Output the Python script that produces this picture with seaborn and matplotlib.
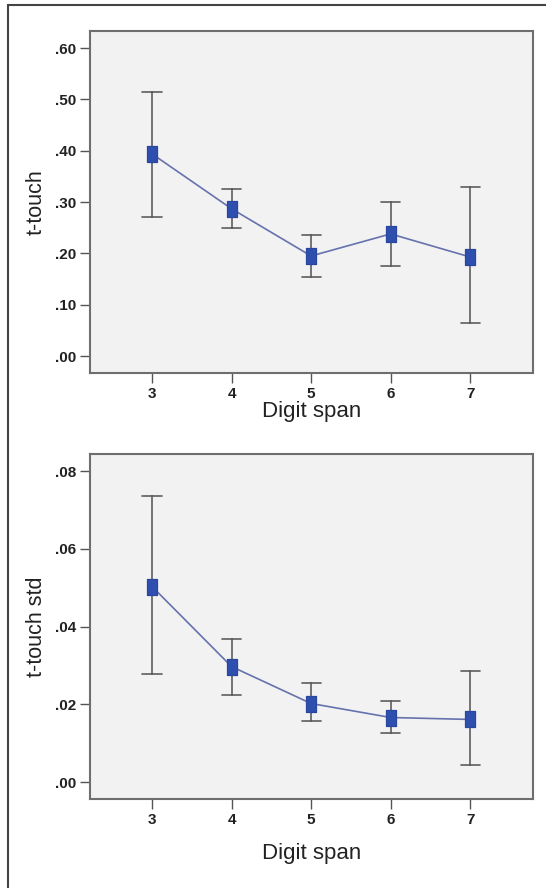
import numpy as np
import pandas as pd
import matplotlib
matplotlib.use("Agg")
import matplotlib.pyplot as plt
import seaborn as sns
from matplotlib.ticker import FuncFormatter
from matplotlib.patches import Rectangle

# digit span groups
spans = [3, 4, 5, 6, 7]

# t-touch: mean with 95% CI
touch_mean = [0.394, 0.287, 0.195, 0.238, 0.193]
touch_low = [0.271, 0.249, 0.154, 0.176, 0.064]
touch_high = [0.514, 0.326, 0.235, 0.300, 0.329]

# t-touch std: mean with 95% CI
std_mean = [0.0503, 0.0297, 0.0202, 0.0166, 0.0161]
std_low = [0.0277, 0.0225, 0.0157, 0.0125, 0.0043]
std_high = [0.0735, 0.0368, 0.0254, 0.0209, 0.0285]

top_ticks = [0.0, 0.1, 0.2, 0.3, 0.4, 0.5, 0.6]
bottom_ticks = [0.0, 0.02, 0.04, 0.06, 0.08]


def long_table(low, mean, high):
    # three rows per group: median = mean, min/max = CI ends
    rows = []
    for s, lo, m, hi in zip(spans, low, mean, high):
        for v in (lo, m, hi):
            rows.append({"span": s, "value": v})
    return pd.DataFrame(rows)


sns.set_theme(style="white")
plt.rcParams["font.family"] = ["Liberation Sans", "DejaVu Sans"]

fig = plt.figure(figsize=(5.46, 8.88), dpi=100)
fig.patches.append(Rectangle((8 / 546, -0.01), 1.0, 1 - 5 / 888 + 0.01,
                             transform=fig.transFigure, fill=False,
                             edgecolor="#444444", linewidth=1.5))

ax1 = fig.add_axes([90 / 546, 1 - 373 / 888, 443 / 546, 342 / 888])
ax2 = fig.add_axes([90 / 546, 1 - 799 / 888, 443 / 546, 345 / 888])

box = [(-0.3, -0.5), (0.3, -0.5), (0.3, 0.5), (-0.3, 0.5), (-0.3, -0.5)]

panels = [
    (ax1, long_table(touch_low, touch_mean, touch_high), "t-touch",
     top_ticks, (-0.0331, 0.6335)),
    (ax2, long_table(std_low, std_mean, std_high), "t-touch std",
     bottom_ticks, (-0.00437, 0.0844)),
]

for ax, df, ylab, yt, ylim in panels:
    ax.set_facecolor("#f2f2f2")
    sns.pointplot(data=df, x="span", y="value", estimator="median",
                  errorbar=("pi", 100), capsize=0.24, color="#6572ad",
                  marker=box, markersize=12, linewidth=1.2,
                  markerfacecolor="#2f4fae", markeredgecolor="#2a47a0",
                  err_kws={"color": "#5e5e5e", "linewidth": 1.2}, ax=ax)
    ax.lines[0].set_zorder(5)
    ax.set_xlim(-0.78, 4.79)
    ax.set_ylim(*ylim)
    ax.set_yticks(yt)
    ax.yaxis.set_major_formatter(FuncFormatter(lambda v, p: f"{v:.2f}".lstrip("0")))
    ax.set_xticks(range(len(spans)))
    ax.set_xticklabels([str(s) for s in spans])
    ax.tick_params(axis="both", direction="out", length=7, width=1,
                   color="#555555", labelsize=11, pad=3,
                   labelcolor="#222222", bottom=True, left=True)
    for lab in ax.get_xticklabels() + ax.get_yticklabels():
        lab.set_fontweight("bold")
    for sp in ax.spines.values():
        sp.set_color("#6e6e6e")
        sp.set_linewidth(1.5)
    ax.set_xlabel("Digit span", fontsize=16, color="#222222")
    ax.set_ylabel(ylab, fontsize=15.5, color="#222222")
    ax.xaxis.label.set_va("center")
    ax.yaxis.label.set_va("center")

ax1.xaxis.set_label_coords(0.5, -(412 - 373) / 342)
ax1.yaxis.set_label_coords((36 - 90) / 443, 0.5)
ax2.xaxis.set_label_coords(0.5, -(853 - 799) / 345)
ax2.yaxis.set_label_coords((36 - 90) / 443, 0.5)

fig.savefig("out.png", dpi=100)
